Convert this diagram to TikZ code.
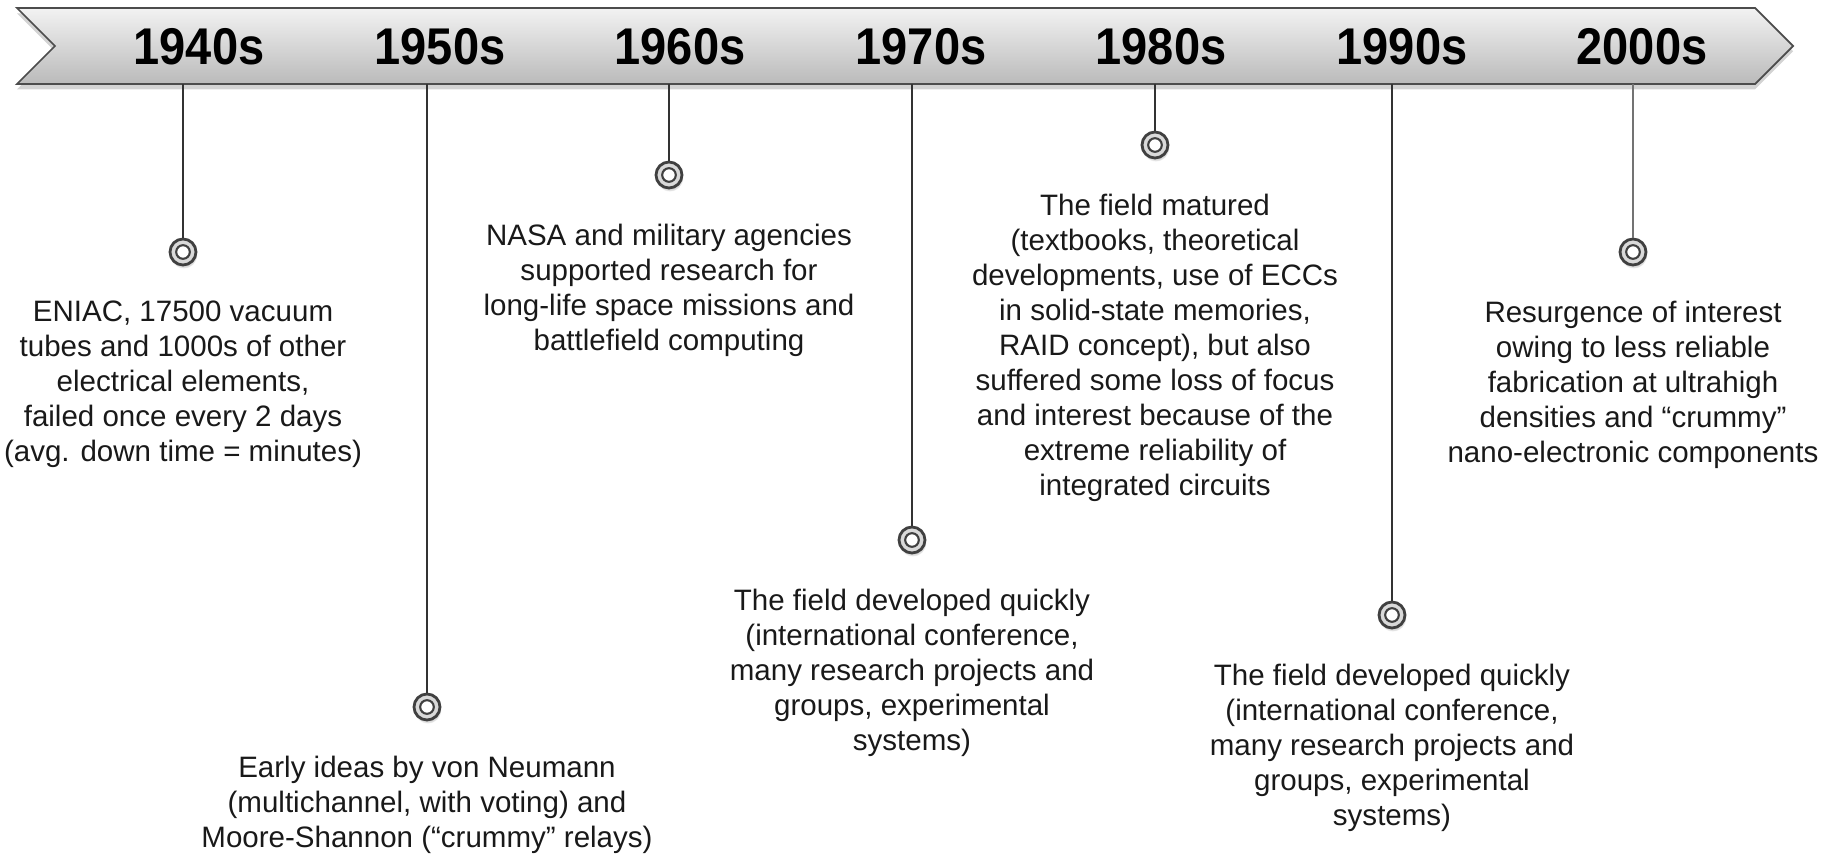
\documentclass[tikz,border=0pt]{standalone}
\usepackage{fontspec}
\setmainfont{Liberation Sans}
\newfontfamily\yearfont[FakeStretch=0.91]{Liberation Sans}
\usetikzlibrary{positioning,shadows}

\begin{document}
\begin{tikzpicture}[
    year/.style={anchor=base,font=\yearfont\fontsize{14.7}{17}\selectfont\bfseries},
    marker/.style={circle,draw=black!75,line width=0.8pt,fill=black!15,minimum size=0.26cm,inner sep=0pt,
      circular drop shadow={shadow xshift=0.2pt,shadow yshift=-0.8pt,opacity=0.3,shadow scale=1.05},
      path picture={\draw[black!75,line width=0.6pt,fill=white] (path picture bounding box.center) circle (0.068cm);}},
    stem/.style={draw=black!80,line width=0.45pt},
    event/.style={align=center,inner sep=0pt,text=black!90,font=\fontsize{8.4}{9.96}\selectfont}
  ]
    \useasboundingbox (0,0) rectangle (18.33,-8.55);

    % Banner
    \draw[draw=black!70,line width=0.5pt,top color=black!5,bottom color=black!27,
      drop shadow={shadow xshift=0pt,shadow yshift=-1.5pt,opacity=0.35}]
      (0.17,-0.08) -- (17.55,-0.08) -- (17.93,-0.46) -- (17.55,-0.84) -- (0.17,-0.84) -- (0.55,-0.46) -- cycle;

    % Decades
    \node[year] (y1) at (1.99,-0.65) {1940s};
    \node[year] (y2) at (4.40,-0.65) {1950s};
    \node[year] (y3) at (6.80,-0.65) {1960s};
    \node[year] (y4) at (9.21,-0.65) {1970s};
    \node[year] (y5) at (11.61,-0.65) {1980s};
    \node[year] (y6) at (14.02,-0.65) {1990s};
    \node[year] (y7) at (16.42,-0.65) {2000s};

    % Stem start points on the banner
    \coordinate (s1) at (1.83,-0.84);
    \coordinate (s2) at (4.27,-0.84);
    \coordinate (s3) at (6.69,-0.84);
    \coordinate (s4) at (9.12,-0.84);
    \coordinate (s5) at (11.55,-0.84);
    \coordinate (s6) at (13.92,-0.84);
    \coordinate (s7) at (16.33,-0.84);

    % Markers
    \node[marker] (m1) at (1.83,-2.52) {};
    \node[marker] (m2) at (4.27,-7.07) {};
    \node[marker] (m3) at (6.69,-1.75) {};
    \node[marker] (m4) at (9.12,-5.40) {};
    \node[marker] (m5) at (11.55,-1.45) {};
    \node[marker] (m6) at (13.92,-6.15) {};
    \node[marker] (m7) at (16.33,-2.52) {};

    % Stems
    \draw[stem] (s1) -- (m1);
    \draw[stem] (s2) -- (m2);
    \draw[stem] (s3) -- (m3);
    \draw[stem] (s4) -- (m4);
    \draw[stem] (s5) -- (m5);
    \draw[stem] (s6) -- (m6);
    \draw[stem,draw=black!55] (s7) -- (m7);

    % Events
    \node[event,below=0.34cm of m1] (e1) {ENIAC, 17500 vacuum\\tubes and 1000s of other\\electrical elements,\\failed once every 2 days\\(avg. down time = minutes)};
    \node[event,below=0.34cm of m2] (e2) {Early ideas by von Neumann\\(multichannel, with voting) and\\Moore-Shannon (“crummy” relays)};
    \node[event,below=0.34cm of m3] (e3) {NASA and military agencies\\supported research for\\long-life space missions and\\battlefield computing};
    \node[event,below=0.34cm of m4] (e4) {The field developed quickly\\(international conference,\\many research projects and\\groups, experimental\\systems)};
    \node[event,below=0.34cm of m5] (e5) {The field matured\\(textbooks, theoretical\\developments, use of ECCs\\in solid-state memories,\\RAID concept), but also\\suffered some loss of focus\\and interest because of the\\extreme reliability of\\integrated circuits};
    \node[event,below=0.34cm of m6] (e6) {The field developed quickly\\(international conference,\\many research projects and\\groups, experimental\\systems)};
    \node[event,below=0.34cm of m7] (e7) {Resurgence of interest\\owing to less reliable\\fabrication at ultrahigh\\densities and “crummy”\\nano-electronic components};
  \end{tikzpicture}
\end{document}
